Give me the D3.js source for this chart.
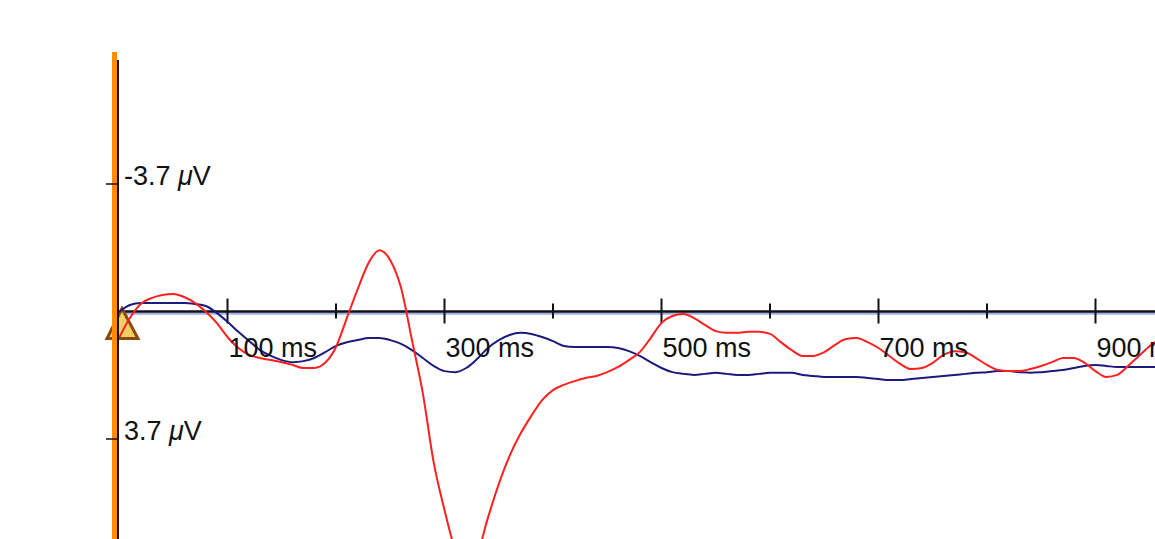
<!DOCTYPE html>
<html>
<head>
<meta charset="utf-8">
<script src="https://cdn.jsdelivr.net/npm/d3@7"></script>
<style>
  html, body { margin: 0; padding: 0; background: #fff; }
  svg { display: block; font-family: "Liberation Sans", Arial, sans-serif; }
</style>
</head>
<body>
<div id="chart"></div>
<script>
// sample times (ms)
const times = d3.range(0, 970, 10);

// amplitudes in µV (positive plotted downward)
const redValues = [
  0.77, 0.19, -0.22, -0.39, -0.48, -0.51, -0.42, -0.25, 0.01, 0.33,
  0.74, 1.06, 1.26, 1.35, 1.41, 1.47, 1.55, 1.64, 1.64, 1.49,
  1.03, 0.19, -0.65, -1.41, -1.78, -1.49, -0.68, 0.83, 2.37, 4.37,
  5.76, 6.92, 7.44, 7.07, 5.99, 5.01, 4.19, 3.55, 3.03, 2.57,
  2.28, 2.13, 2.02, 1.93, 1.87, 1.76, 1.61, 1.41, 1.18, 0.77,
  0.33, 0.13, 0.07, 0.19, 0.39, 0.57, 0.62, 0.62, 0.59, 0.59,
  0.65, 0.89, 1.12, 1.29, 1.29, 1.18, 0.97, 0.80, 0.77, 0.89,
  1.06, 1.29, 1.52, 1.67, 1.64, 1.49, 1.26, 1.15, 1.18, 1.35,
  1.55, 1.70, 1.73, 1.73, 1.67, 1.58, 1.47, 1.35, 1.35, 1.49,
  1.73, 1.90, 1.84, 1.58, 1.29, 1.00, 0.77
];
const navyValues = [
  0.01, -0.19, -0.25, -0.25, -0.25, -0.25, -0.25, -0.22, -0.16, 0.04,
  0.30, 0.59, 0.86, 1.12, 1.29, 1.41, 1.47, 1.44, 1.35, 1.18,
  1.00, 0.89, 0.83, 0.77, 0.77, 0.83, 0.94, 1.12, 1.35, 1.58,
  1.73, 1.76, 1.64, 1.38, 1.06, 0.83, 0.68, 0.62, 0.65, 0.74,
  0.86, 1.00, 1.03, 1.03, 1.03, 1.03, 1.06, 1.15, 1.29, 1.47,
  1.64, 1.76, 1.81, 1.84, 1.81, 1.78, 1.81, 1.84, 1.84, 1.81,
  1.78, 1.78, 1.78, 1.84, 1.87, 1.90, 1.90, 1.90, 1.90, 1.93,
  1.96, 1.99, 1.99, 1.96, 1.93, 1.90, 1.87, 1.84, 1.81, 1.78,
  1.76, 1.73, 1.73, 1.76, 1.78, 1.76, 1.73, 1.70, 1.64, 1.58,
  1.55, 1.58, 1.61, 1.61, 1.61, 1.61, 1.61
];

const majorTicks = [100, 300, 500, 700, 900];
const minorTicks = [200, 400, 600, 800];
const ampTicks = [-3.7, 3.7];

const width = 1155;
const height = 539;

const svg = d3.select('#chart').append('svg').attr('width', width).attr('height', height);

// scales
const x = d3.scaleLinear().domain([0, 1000]).range([119, 119 + 1085]);
const y = d3.scaleLinear().domain([-3.7, 3.7]).range([184, 439]);
const y0 = y(0);

// baseline (light blue under black)
svg.append('line')
  .attr('x1', x(0)).attr('x2', width)
  .attr('y1', y0 + 2.2).attr('y2', y0 + 2.2)
  .attr('stroke', '#9fb2f0').attr('stroke-width', 2.2);
svg.append('line')
  .attr('x1', x(0)).attr('x2', width)
  .attr('y1', y0).attr('y2', y0)
  .attr('stroke', '#111').attr('stroke-width', 2.4);

// time ticks
svg.append('g').selectAll('line').data(majorTicks).enter().append('line')
  .attr('x1', (d) => x(d)).attr('x2', (d) => x(d))
  .attr('y1', y0 - 13).attr('y2', y0 + 12)
  .attr('stroke', '#111').attr('stroke-width', 2);
svg.append('g').selectAll('line').data(minorTicks).enter().append('line')
  .attr('x1', (d) => x(d)).attr('x2', (d) => x(d))
  .attr('y1', y0 - 8).attr('y2', y0 + 7)
  .attr('stroke', '#111').attr('stroke-width', 2);

// triangle marker at stimulus onset
const tx = x(0) + 3;
svg.append('path')
  .attr('d', `M${tx},${y0 - 3}L${tx + 16},${y0 + 27}L${tx - 15},${y0 + 27}Z`)
  .attr('fill', '#f2cf63')
  .attr('stroke', '#8a4a16')
  .attr('stroke-width', 3)
  .attr('stroke-linejoin', 'miter');

// waveforms
const line = d3.line()
  .x((d) => x(d[0]))
  .y((d) => y(d[1]))
  .curve(d3.curveMonotoneX);

svg.append('path')
  .datum(times.map((t, i) => [t, navyValues[i]]))
  .attr('fill', 'none').attr('stroke', '#1b1b7d').attr('stroke-width', 2)
  .attr('d', line);

svg.append('path')
  .datum(times.map((t, i) => [t, redValues[i]]))
  .attr('fill', 'none').attr('stroke', '#ff1f1f').attr('stroke-width', 2)
  .attr('d', line);

// time labels
svg.append('g').selectAll('text').data(majorTicks).enter().append('text')
  .attr('x', (d) => x(d) + 1)
  .attr('y', y0 + 45)
  .attr('font-size', 27)
  .attr('fill', '#111')
  .text((d) => `${d} ms`);

// orange cursor bar and amplitude axis
svg.append('line')
  .attr('x1', 114.5).attr('x2', 114.5)
  .attr('y1', 52).attr('y2', height)
  .attr('stroke', '#ff8c00').attr('stroke-width', 5);
svg.append('line')
  .attr('x1', 118).attr('x2', 118)
  .attr('y1', 60).attr('y2', height)
  .attr('stroke', '#111').attr('stroke-width', 2);

svg.append('g').selectAll('line').data(ampTicks).enter().append('line')
  .attr('x1', 106).attr('x2', 117)
  .attr('y1', (d) => y(d)).attr('y2', (d) => y(d))
  .attr('stroke', '#111').attr('stroke-width', 1.5);

const amp = svg.append('g').selectAll('text').data(ampTicks).enter().append('text')
  .attr('x', 124)
  .attr('y', (d) => y(d) + 1)
  .attr('font-size', 27)
  .attr('fill', '#111');
amp.append('tspan').text((d) => `${d} `);
amp.append('tspan').attr('font-style', 'italic').text('\u03bc');
amp.append('tspan').text('V');
</script>
</body>
</html>
